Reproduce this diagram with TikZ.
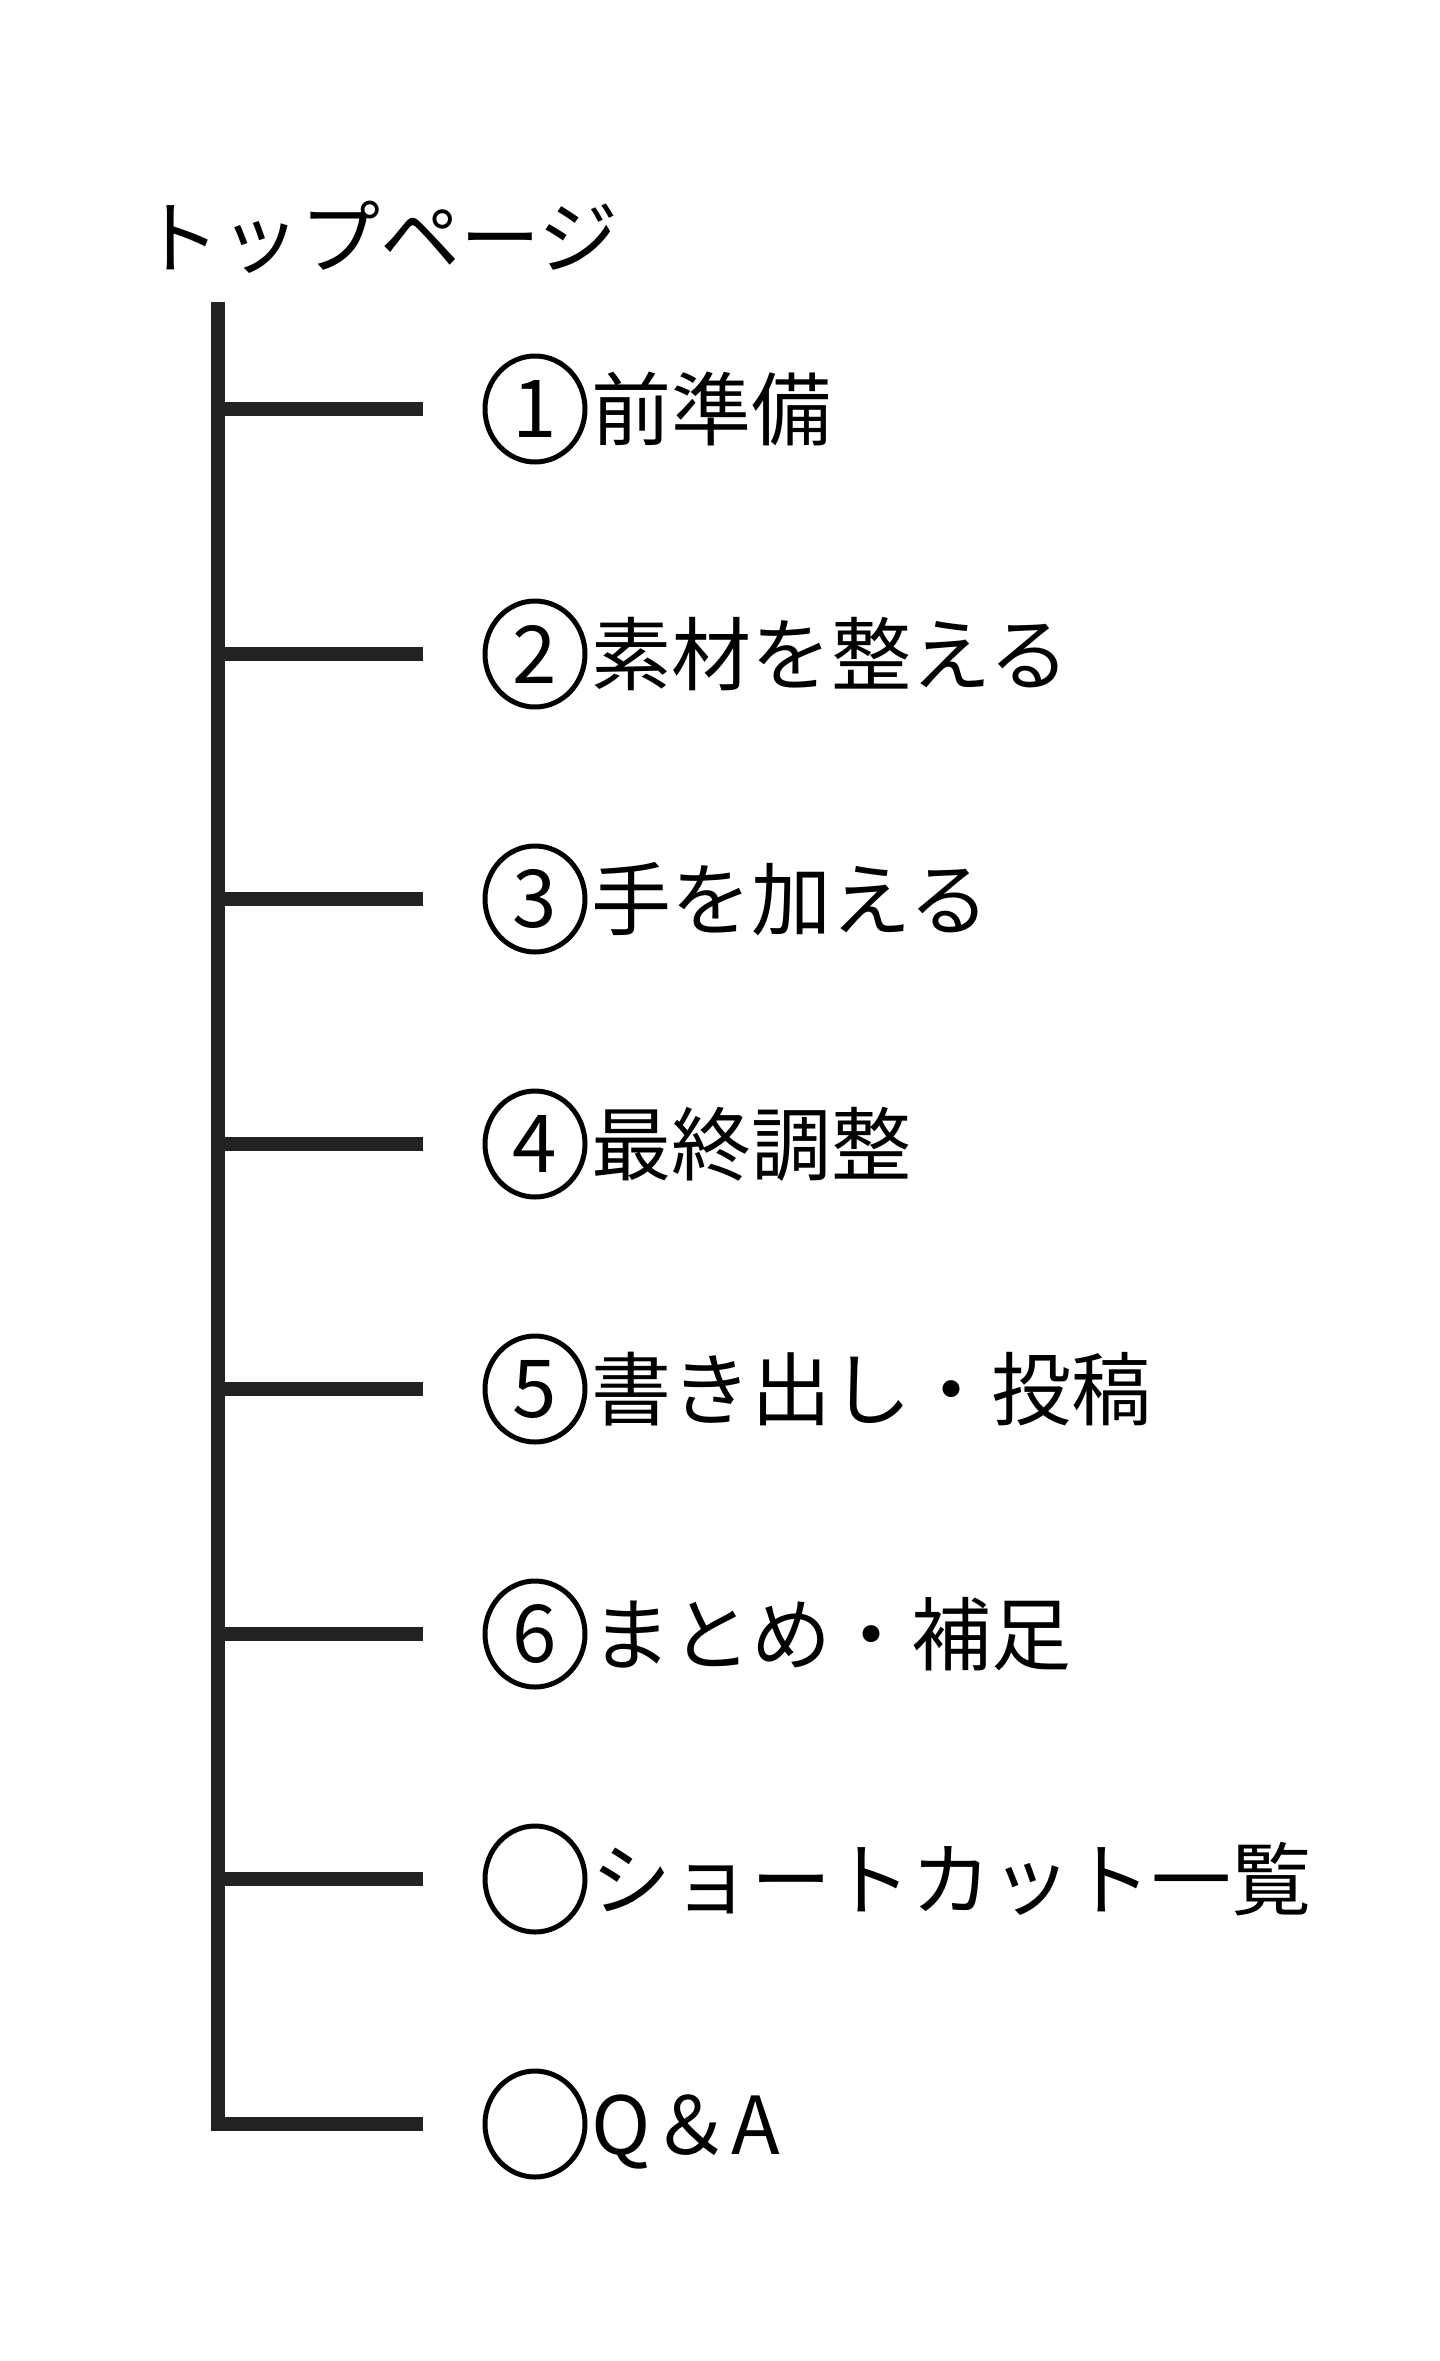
\documentclass[tikz,border=0pt]{standalone}
\usepackage{fontspec}
\setmainfont{Noto Sans CJK JP}
\usetikzlibrary{positioning,shapes.geometric}
\definecolor{treegray}{HTML}{222222}
\tikzset{
  treeline/.style = {line width = 7pt, draw = treegray},
  numcircle/.style = {ellipse, draw = black, line width = 2.5pt,
    minimum width = 50pt, minimum height = 53pt, inner sep = 0pt,
    font = \fontsize{40}{40}\selectfont},
  entrytext/.style = {anchor = west, inner sep = 0pt,
    font = \fontsize{40}{40}\selectfont,
    text height = 35.2pt, text depth = 4.8pt},
}
\def\drawentry#1#2#3#4{%
  \coordinate (#1_root) at (218,#2);
  \coordinate (#1_end) at (423,#2);
  \node [numcircle] (#1_num) at (535,#2) {#3};
  \node [entrytext, right = 2pt of #1_num] (#1_text) {#4};
}

\begin{document}
\begin{tikzpicture}[x = 0.5pt, y = -0.5pt]
  \useasboundingbox (0,0) rectangle (1440,2361);

  \node [entrytext] (title) at (140,237) {トップページ};
  \coordinate (trunk_top) at (218,302);

  \drawentry{prep}{409}{1}{前準備}
  \drawentry{material}{654}{2}{素材を整える}
  \drawentry{edit}{899}{3}{手を加える}
  \drawentry{adjust}{1144}{4}{最終調整}
  \drawentry{export}{1389}{5}{書き出し・投稿}
  \drawentry{summary}{1634}{6}{まとめ・補足}
  \drawentry{shortcut}{1879}{}{ショートカット一覧}
  \drawentry{qa}{2124}{}{Q＆A}

  % trunk and branches
  \draw [treeline] (trunk_top) -- (qa_root) -- (qa_end);
  \draw [treeline] (prep_root) -- (prep_end);
  \draw [treeline] (material_root) -- (material_end);
  \draw [treeline] (edit_root) -- (edit_end);
  \draw [treeline] (adjust_root) -- (adjust_end);
  \draw [treeline] (export_root) -- (export_end);
  \draw [treeline] (summary_root) -- (summary_end);
  \draw [treeline] (shortcut_root) -- (shortcut_end);

\end{tikzpicture}
\end{document}
